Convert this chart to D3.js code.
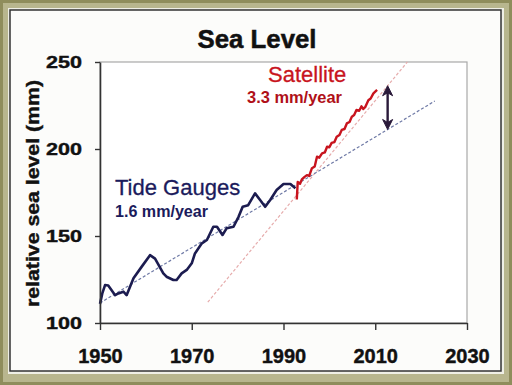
<!DOCTYPE html>
<html>
<head>
<meta charset="utf-8">
<script src="https://cdn.jsdelivr.net/npm/d3@7"></script>
<style>
    body { margin: 0; background: #fff; }
    svg { display: block; font-family: 'Liberation Sans', Arial, sans-serif; }
</style>
</head>
<body>
<svg id="chart" width="512" height="385"></svg>
<script>
const width = 512;
const height = 385;

// tide gauge record
const tideYears = [1950, 1950.5, 1951.1, 1951.8, 1953.3, 1954.0, 1955.1, 1955.8, 1957.3, 1959.1,
    1960.9, 1962.0, 1963.8, 1964.5, 1966.0, 1966.7, 1967.8, 1968.9, 1970.0, 1970.7,
    1972.2, 1973.3, 1974.7, 1975.5, 1976.7, 1977.6, 1979.1, 1980.2, 1981.1, 1982.3,
    1983.8, 1984.9, 1986.0, 1987.1, 1988.5, 1990.0, 1991.5, 1992.6];
const tideValues = [111, 117, 121.8, 121.5, 116, 117, 118, 116, 125.7, 132.4,
    139, 137, 128.5, 126.6, 124.7, 124.7, 128.5, 130.5, 134.3, 140,
    145.8, 147.7, 155.3, 155.3, 150.6, 154.4, 155.3, 161, 166.8, 167.7,
    174.5, 170.7, 166.8, 170.7, 176.4, 179.9, 179.9, 177.4];

// satellite altimetry record
const satYears = [1992.9, 1993.1, 1993.6, 1994.0, 1994.6, 1995.1, 1995.6, 1996.2, 1996.8, 1997.3,
    1997.8, 1998.4, 1999.0, 1999.5, 2000.0, 2000.5, 2001.1, 2001.6, 2002.2, 2002.7,
    2003.3, 2003.8, 2004.4, 2004.9, 2005.4, 2005.9, 2006.5, 2007.0, 2007.4, 2007.8,
    2008.5, 2009.0, 2009.6, 2010.4];
const satValues = [171, 181, 180, 182.5, 184, 185, 184.5, 189, 190, 195.6,
    195, 197.5, 198, 201.3, 201, 203.5, 204, 207, 208, 211,
    211.5, 214.7, 215.5, 218.6, 219.5, 222.4, 222, 224.5, 223, 224,
    228, 229, 232, 234];

// fitted trends (end points)
const tideTrendYears = [1950, 2023];
const tideTrendValues = [111.5, 227.6];
const satTrendYears = [1973.5, 2017];
const satTrendValues = [112, 250];

const arrowYear = 2012.7;

const xTicks = [1950, 1970, 1990, 2010, 2030];
const yTicks = [100, 150, 200, 250];

const svg = d3.select('#chart');

// picture frame
svg.append('rect').attr('width', width).attr('height', height).attr('fill', '#8f8d5c');
svg.append('rect').attr('x', 3).attr('y', 3).attr('width', width - 6).attr('height', height - 6).attr('fill', '#b8b68e');
svg.append('rect').attr('x', 8).attr('y', 8).attr('width', 496).attr('height', 366).attr('fill', '#efefe6');
svg.append('rect').attr('x', 10).attr('y', 10).attr('width', 491).attr('height', 361)
    .attr('fill', '#fcfcfa').attr('stroke', '#333').attr('stroke-width', 1.5);

const x = d3.scaleLinear([1950, 2030], [100, 467]);
const y = d3.scaleLinear([100, 250], [323, 62]);

// plot area
svg.append('rect')
    .attr('x', x(1950)).attr('y', y(250))
    .attr('width', x(2030) - x(1950)).attr('height', y(100) - y(250))
    .attr('fill', '#fff').attr('stroke', '#a8a8a8').attr('stroke-width', 1.2);

// trend lines
const trend = (years, values) => years.map((yr, i) => [x(yr), y(values[i])]);
svg.append('path')
    .attr('d', d3.line()(trend(satTrendYears, satTrendValues)))
    .attr('fill', 'none').attr('stroke', '#e6acac').attr('stroke-width', 1.2)
    .attr('stroke-dasharray', '3,2');
svg.append('path')
    .attr('d', d3.line()(trend(tideTrendYears, tideTrendValues)))
    .attr('fill', 'none').attr('stroke', '#6f7aa6').attr('stroke-width', 1.2)
    .attr('stroke-dasharray', '3,2');

// data lines
svg.append('path')
    .attr('d', d3.line()(trend(tideYears, tideValues)))
    .attr('fill', 'none').attr('stroke', '#1c1c50').attr('stroke-width', 2.6)
    .attr('stroke-linejoin', 'round');
svg.append('path')
    .attr('d', d3.line()(trend(satYears, satValues)))
    .attr('fill', 'none').attr('stroke', '#c8141e').attr('stroke-width', 2.4)
    .attr('stroke-linejoin', 'round');

// gap arrow between the two trends
const lerp = (years, values, yr) => values[0] + (values[1] - values[0]) * (yr - years[0]) / (years[1] - years[0]);
const ax = x(arrowYear);
const aTop = y(lerp(satTrendYears, satTrendValues, arrowYear));
const aBot = y(lerp(tideTrendYears, tideTrendValues, arrowYear));
svg.append('line')
    .attr('x1', ax).attr('x2', ax).attr('y1', aTop + 4).attr('y2', aBot - 4)
    .attr('stroke', '#2a1a3a').attr('stroke-width', 2.4);
svg.append('path')
    .attr('d', `M${ax},${aTop} l-5,10 l5,-3 l5,3 Z M${ax},${aBot} l-5,-10 l5,3 l5,-3 Z`)
    .attr('fill', '#2a1a3a').attr('stroke', '#2a1a3a').attr('stroke-width', 1);

// axes
const xAxis = svg.append('g')
    .attr('transform', `translate(0,${y(100)})`)
    .call(d3.axisBottom(x).tickValues(xTicks).tickFormat(d3.format('d'))
        .tickSize(7).tickSizeOuter(0).tickPadding(19));
const yAxis = svg.append('g')
    .attr('transform', `translate(${x(1950)},0)`)
    .call(d3.axisLeft(y).tickValues(yTicks).tickSize(5).tickSizeOuter(0).tickPadding(13));

[xAxis, yAxis].forEach(g => {
    g.select('.domain').attr('stroke', '#333').attr('stroke-width', 1.6);
    g.selectAll('.tick line').attr('stroke', '#333').attr('stroke-width', 1.4);
    g.selectAll('.tick text').attr('fill', '#111').style('font-weight', 'bold')
        .attr('stroke', '#111').attr('stroke-width', 0.4);
});
xAxis.selectAll('.tick text').style('font-size', '20px');
yAxis.selectAll('.tick text').style('font-size', '17px')
    .attr('textLength', 36).attr('lengthAdjust', 'spacingAndGlyphs');

// title and labels
svg.append('text')
    .attr('x', 257).attr('y', 48).attr('text-anchor', 'middle')
    .style('font-size', '25px').style('font-weight', 'bold').attr('fill', '#111')
    .attr('stroke', '#111').attr('stroke-width', 0.5)
    .attr('textLength', 119).attr('lengthAdjust', 'spacingAndGlyphs')
    .text('Sea Level');

svg.append('text')
    .attr('transform', 'translate(39,193.5) rotate(-90)')
    .attr('text-anchor', 'middle')
    .style('font-size', '18px').style('font-weight', 'bold').attr('fill', '#111')
    .attr('stroke', '#111').attr('stroke-width', 0.4)
    .attr('textLength', 227).attr('lengthAdjust', 'spacingAndGlyphs')
    .text('relative sea level (mm)');

svg.append('text')
    .attr('x', 115).attr('y', 195)
    .style('font-size', '22px').attr('fill', '#1b1b5c')
    .attr('stroke', '#1b1b5c').attr('stroke-width', 0.3)
    .text('Tide Gauges');
svg.append('text')
    .attr('x', 115).attr('y', 217)
    .style('font-size', '16px').style('font-weight', 'bold').attr('fill', '#1b1b5c')
    .attr('textLength', 93).attr('lengthAdjust', 'spacingAndGlyphs')
    .text('1.6 mm/year');

svg.append('text')
    .attr('x', 268).attr('y', 82)
    .style('font-size', '22px').attr('fill', '#c8141e')
    .attr('stroke', '#c8141e').attr('stroke-width', 0.3)
    .text('Satellite');
svg.append('text')
    .attr('x', 247).attr('y', 103)
    .style('font-size', '16px').style('font-weight', 'bold').attr('fill', '#b01018')
    .attr('textLength', 95).attr('lengthAdjust', 'spacingAndGlyphs')
    .text('3.3 mm/year');
</script>
</body>
</html>
